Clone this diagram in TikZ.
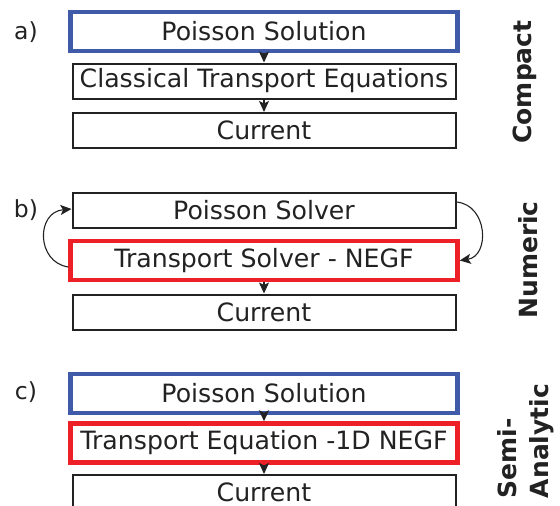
\documentclass[tikz,border=0pt]{standalone}
\usepackage{fontspec}
\setmainfont{DejaVu Sans}
\usetikzlibrary{arrows.meta}
\definecolor{pblue}{RGB}{62,90,168}
\definecolor{pred}{RGB}{236,32,38}
\definecolor{ink}{RGB}{34,34,34}
\tikzset{
  box/.style={draw=ink, line width=2pt, minimum width=383pt, minimum height=35pt, inner sep=0pt, text=ink, font=\fontsize{25.2}{30}\selectfont},
  bluebox/.style={box, draw=pblue, line width=4.5pt, minimum width=387pt, minimum height=39pt},
  redbox/.style={box, draw=pred, line width=4.5pt, minimum width=387pt, minimum height=39pt},
  arr/.style={draw=ink, line width=1.1pt, -{Stealth[length=11pt,width=10pt,inset=2.5pt]}},
  tag/.style={text=ink, font=\fontsize{23.5}{28}\selectfont},
  side/.style={text=ink, rotate=90, font=\fontsize{25}{32}\bfseries\selectfont, inner sep=0pt}
}
\begin{document}
\begin{tikzpicture}[x=1pt,y=-1pt]
\useasboundingbox (0,0) rectangle (560,506);
\clip (0,0) rectangle (560,506);
% panel a
\node[tag] (la) at (26,32) {a)};
\node[bluebox] (a1) at (264,31.5) {Poisson Solution};
\node[box] (a2) at (264,81) {Classical Transport Equations};
\node[box] (a3) at (264,130.5) {Current};
\draw[arr] (a1) -- (a2);
\draw[arr] (a2) -- (a3);
\node[side] (sa) at (525,82) {Compact};
% panel b
\node[tag] (lb) at (26,210) {b)};
\node[box] (b1) at (264,210) {Poisson Solver};
\node[redbox] (b2) at (264,260.5) {Transport Solver - NEGF};
\node[box] (b3) at (264,312) {Current};
\draw[arr] (b2) -- (b3);
\draw[arr] ([yshift=-6.5pt]b2.west) .. controls (36,262) and (36,212) .. ([yshift=1pt]b1.west);
\draw[arr] ([yshift=8pt]b1.east) .. controls (488,205) and (490,256) .. (b2.east);
\node[side] (sb) at (528,260) {Numeric};
% panel c
\node[tag] (lc) at (26,392) {c)};
\node[bluebox] (c1) at (264,393.5) {Poisson Solution};
\node[redbox] (c2) at (264,443) {Transport Equation -1D NEGF};
\node[box] (c3) at (264,492.5) {Current};
\draw[arr] (c1) -- (c2);
\draw[arr] (c2) -- (c3);
\node[side, align=left, anchor=center] (sc) at (526,441) {Semi-\\Analytic};
\end{tikzpicture}
\end{document}
